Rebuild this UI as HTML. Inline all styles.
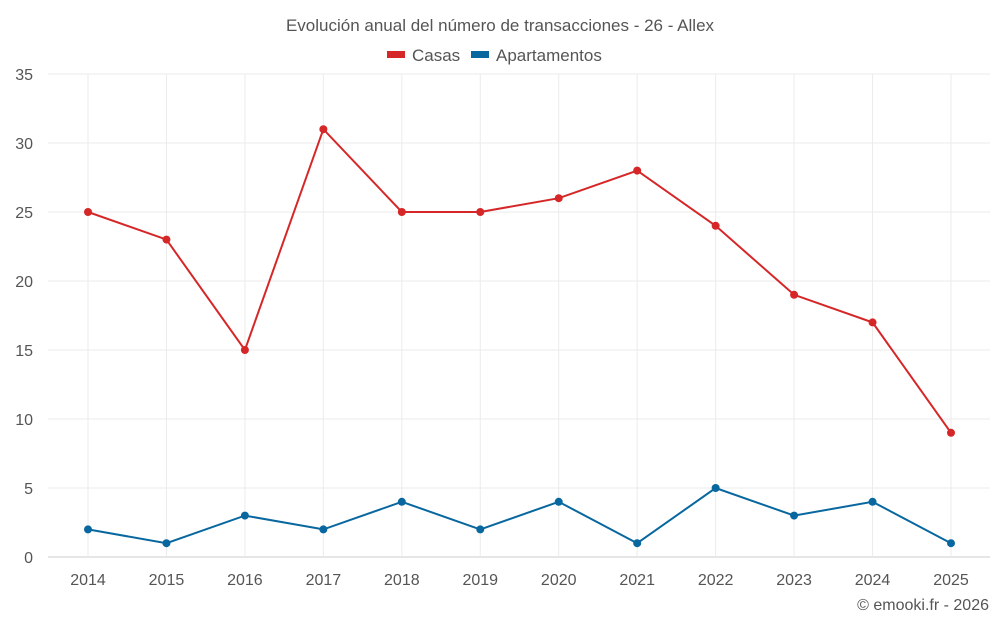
<!DOCTYPE html>
<html><head><meta charset="utf-8"><style>
body{margin:0;background:#fff;font-family:"Liberation Sans",sans-serif;}
svg text{font-family:"Liberation Sans",sans-serif;fill:#555;}
</style></head><body>
<svg id="chart" width="1000" height="625" viewBox="0 0 1000 625" xmlns="http://www.w3.org/2000/svg">
<text x="500" y="31" text-anchor="middle" font-size="17">Evolución anual del número de transacciones - 26 - Allex</text>
<g>
<g><rect x="387" y="51" width="18" height="7" fill="#d62728"/><text x="412" y="61" font-size="17">Casas</text></g>
<g><rect x="471" y="51" width="18" height="7" fill="#08679f"/><text x="496" y="61" font-size="17">Apartamentos</text></g>
</g>
<g id="grid"></g>
<g id="axes"></g>
<g id="series"></g>
<text x="989" y="610" text-anchor="end" font-size="16">© emooki.fr - 2026</text>
</svg>
<script>
const years=[2014,2015,2016,2017,2018,2019,2020,2021,2022,2023,2024,2025];
const casas=[25,23,15,31,25,25,26,28,24,19,17,9];
const apartamentos=[2,1,3,2,4,2,4,1,5,3,4,1];
const yTicks=[0,5,10,15,20,25,30,35];
const NS="http://www.w3.org/2000/svg";
const L=48,R=990,T=74,B=557,yMax=35;
const step=(951-88)/(years.length-1);
const x=i=>88+i*step;
const y=v=>B-(v/yMax)*(B-T);
function mk(tag,attrs,parent){const e=document.createElementNS(NS,tag);for(const k in attrs)e.setAttribute(k,attrs[k]);parent.appendChild(e);return e;}
const grid=document.getElementById('grid'),axes=document.getElementById('axes'),series=document.getElementById('series');
yTicks.forEach(t=>{
 const l=mk('line',{x1:L,x2:R,y1:y(t),y2:y(t),stroke:t===0?'#ccc':'#ebebeb','stroke-width':1},grid);
 
 
 const tx=mk('text',{x:33,y:y(t)+6,'text-anchor':'end','font-size':16},axes);
 tx.textContent=t;
 
 
});
years.forEach((yr,i)=>{
 const l=mk('line',{x1:x(i),x2:x(i),y1:T,y2:B,stroke:'#ebebeb','stroke-width':1},grid);
 
 
 const tx=mk('text',{x:x(i),y:585,'text-anchor':'middle','font-size':16},axes);
 tx.textContent=yr;
 
 
});
function draw(vals,color,name){
 const p=mk('polyline',{points:vals.map((v,i)=>x(i)+','+y(v)).join(' '),fill:'none',stroke:color,'stroke-width':2},series);
 
 
 vals.forEach((v,i)=>{
  const c=mk('circle',{cx:x(i),cy:y(v),r:4,fill:color},series);
  
  
 });
}
draw(casas,'#d62728','casas');
draw(apartamentos,'#08679f','apartamentos');
</script>
</body></html>
